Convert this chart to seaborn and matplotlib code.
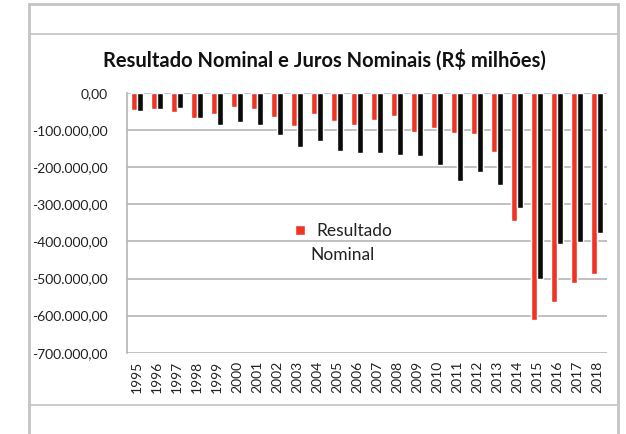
import pandas as pd
import seaborn as sns
import matplotlib.pyplot as plt
from matplotlib.lines import Line2D
from matplotlib.ticker import FuncFormatter

# Dados (R$ milhões)
anos = [str(a) for a in range(1995, 2019)]
resultado_nominal = [-45000, -43000, -50000, -68000, -56000, -38000, -43000, -65000,
                     -88000, -56000, -75000, -86000, -74000, -61000, -106000, -93000,
                     -108000, -110000, -158000, -345000, -613000, -562000, -511000, -488000]
juros_nominais = [-48000, -43000, -41000, -68000, -86000, -78000, -86000, -113000,
                  -145000, -129000, -157000, -162000, -162000, -167000, -171000, -195000,
                  -236000, -214000, -249000, -311000, -502000, -407000, -401000, -378000]

df = pd.DataFrame({
    'ano': anos * 2,
    'valor': resultado_nominal + juros_nominais,
    'serie': ['Resultado Nominal'] * len(anos) + ['Juros Nominais'] * len(anos),
})

sns.set_theme(style="white")
plt.rcParams['font.family'] = ['Lato', 'DejaVu Sans']

fig = plt.figure(figsize=(6.26, 4.34), dpi=100)
ax = fig.add_axes([0.2029, 0.1873, 0.7667, 0.5984])

sns.barplot(data=df, x='ano', y='valor', hue='serie', ax=ax,
            palette=['#f03424', '#0a0a0a'], width=0.62, gap=0, saturation=1,
            legend=True)

ax.set_ylim(-700000, 0)
ax.set_yticks(range(-700000, 1, 100000))
ax.yaxis.set_major_formatter(FuncFormatter(
    lambda v, p: f"{v:,.2f}".replace(',', 'X').replace('.', ',').replace('X', '.')))
ax.grid(axis='y', color='#b5b5b5', linewidth=1.2)
ax.set_axisbelow(True)
for s in ['top', 'right', 'bottom']:
    ax.spines[s].set_visible(False)
ax.spines['left'].set_color('#b5b5b5')
ax.spines['left'].set_linewidth(1.2)
ax.tick_params(axis='y', labelsize=10, colors='#222222', length=0, pad=14)
ax.tick_params(axis='x', labelsize=10, colors='#222222', length=0, rotation=90, pad=6)
ax.set_xlabel('')
ax.set_ylabel('')

# legenda (só a primeira série aparece, texto quebrado em duas linhas)
h, l = ax.get_legend_handles_labels()
leg = ax.legend(h[:1], ['Resultado'], loc='center left', bbox_to_anchor=(0.35, 0.4686),
                frameon=False, fontsize=12.5, handlelength=0.55, handleheight=0.55,
                handletextpad=0.7, borderpad=0, borderaxespad=0)
for t in leg.get_texts():
    t.set_color('#222222')
ax.text(0.381, 0.376, 'Nominal', transform=ax.transAxes, ha='left', va='center',
        fontsize=12.5, color='#222222')

fig.text(0.519, 0.862, 'Resultado Nominal e Juros Nominais (R$ milhões)',
         ha='center', va='center', fontsize=14.5, fontweight='bold', color='#111111')

# moldura
cor = '#c4c4c4'
fig.add_artist(Line2D([0.0463, 0.0463], [0, 0.991], color=cor, lw=2))
fig.add_artist(Line2D([0.987, 0.987], [0, 0.991], color=cor, lw=2))
fig.add_artist(Line2D([0.0463, 0.987], [0.991, 0.991], color=cor, lw=2))
fig.add_artist(Line2D([0.0463, 0.987], [0.9217, 0.9217], color=cor, lw=1.2))
fig.add_artist(Line2D([0.0463, 0.987], [0.0668, 0.0668], color=cor, lw=1.2))

fig.savefig('out.png', dpi=100)
